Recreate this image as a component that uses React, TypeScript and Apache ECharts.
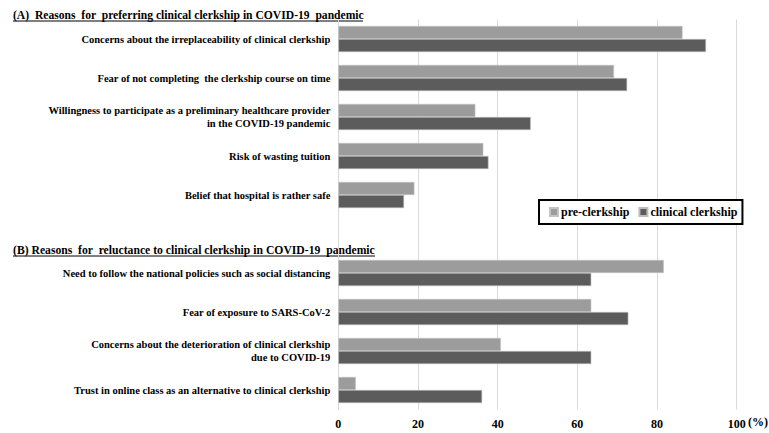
import React, { useEffect, useRef } from "react";
import * as echarts from "echarts";

const titleA = "(A)  Reasons  for  preferring clinical clerkship in COVID-19  pandemic";
const titleB = "(B) Reasons  for  reluctance to clinical clerkship in COVID-19  pandemic";

const categoriesA = [
  "Concerns about the irreplaceability of clinical clerkship",
  "Fear of not completing  the clerkship course on time",
  "Willingness to participate as a preliminary healthcare provider\nin the COVID-19 pandemic",
  "Risk of wasting tuition",
  "Belief that hospital is rather safe",
];
const categoriesB = [
  "Need to follow the national policies such as social distancing",
  "Fear of exposure to SARS-CoV-2",
  "Concerns about the deterioration of clinical clerkship\ndue to COVID-19",
  "Trust in online class as an alternative to clinical clerkship",
];

const preA = [86.4, 69.2, 34.4, 36.4, 19.1];
const clinA = [92.3, 72.5, 48.3, 37.7, 16.5];
const preB = [81.7, 63.5, 40.8, 4.4];
const clinB = [63.5, 72.8, 63.5, 36.1];

const seriesNames = ["pre-clerkship", "clinical clerkship"];
const xTicks = [0, 20, 40, 60, 80, 100];

const FONT = "Liberation Serif";

export default function App() {
  const ref = useRef<HTMLDivElement>(null);
  useEffect(() => {
    if (!ref.current) return;
    const chart = echarts.init(ref.current, null, { renderer: "svg" });
    const categories = [...categoriesA, "", ...categoriesB];
    const pre = [...preA, null, ...preB];
    const clin = [...clinA, null, ...clinB];
    chart.setOption({
      animation: false,
      backgroundColor: "#ffffff",
      textStyle: { fontFamily: FONT },
      grid: { left: 338.3, right: 32.3, top: 19.5, height: 390, containLabel: false },
      legend: {
        left: 539,
        top: 200,
        data: seriesNames,
        icon: "rect",
        itemWidth: 8,
        itemHeight: 8,
        itemGap: 9,
        padding: [6, 5, 6, 10],
        borderColor: "#000",
        borderWidth: 2,
        backgroundColor: "#fff",
        textStyle: { fontFamily: FONT, fontWeight: "bold", fontSize: 12, color: "#000", padding: [0, 0, 0, -2] },
      },
      xAxis: {
        type: "value",
        min: xTicks[0],
        max: xTicks[xTicks.length - 1],
        interval: 20,
        axisLine: { show: false },
        axisTick: { show: false },
        splitLine: { show: true, lineStyle: { color: "#D9D9D9", width: 1 } },
        axisLabel: { fontFamily: FONT, fontWeight: "bold", fontSize: 12, color: "#000", margin: 8 },
      },
      yAxis: {
        type: "category",
        inverse: true,
        data: categories,
        axisLine: { show: true, lineStyle: { color: "#D9D9D9", width: 1 } },
        axisTick: { show: false },
        axisLabel: {
          fontFamily: FONT,
          fontWeight: "bold",
          fontSize: 10.5,
          lineHeight: 12.5,
          color: "#000",
          margin: 8,
          align: "right",
        },
      },
      series: [
        {
          name: seriesNames[0],
          type: "bar",
          data: pre,
          itemStyle: { color: "#9C9C9C", borderColor: "#C4C4C4", borderWidth: 0.6 },
          barGap: "0%",
          barCategoryGap: "33%",
        },
        {
          name: seriesNames[1],
          type: "bar",
          data: clin,
          itemStyle: { color: "#5C5C5C", borderColor: "#BDBDBD", borderWidth: 0.6 },
          barGap: "0%",
          barCategoryGap: "33%",
        },
      ],
      graphic: [
        {
          type: "text",
          x: 13,
          y: 14.5,
          scaleX: 0.893,
          style: {
            text: titleA,
            fontFamily: FONT,
            fontWeight: "bold",
            fontSize: 13,
            fill: "#000",
            textVerticalAlign: "middle",
            verticalAlign: "middle",
          },
        },
        {
          type: "line",
          shape: { x1: 13, y1: 21, x2: 363, y2: 21 },
          style: { stroke: "#000", lineWidth: 1 },
        },
        {
          type: "text",
          x: 13,
          y: 249.5,
          scaleX: 0.898,
          style: {
            text: titleB,
            fontFamily: FONT,
            fontWeight: "bold",
            fontSize: 13,
            fill: "#000",
            textVerticalAlign: "middle",
            verticalAlign: "middle",
          },
        },
        {
          type: "line",
          shape: { x1: 13, y1: 256, x2: 375, y2: 256 },
          style: { stroke: "#000", lineWidth: 1 },
        },
        {
          type: "text",
          left: 748,
          top: 416,
          style: { text: "(%)", fontFamily: FONT, fontWeight: "bold", fontSize: 12, fill: "#000" },
        },
      ],
    });
    return () => chart.dispose();
  }, []);
  return <div ref={ref} style={{ position: "absolute", left: 0, top: 0, width: 769, height: 433 }} />;
}
